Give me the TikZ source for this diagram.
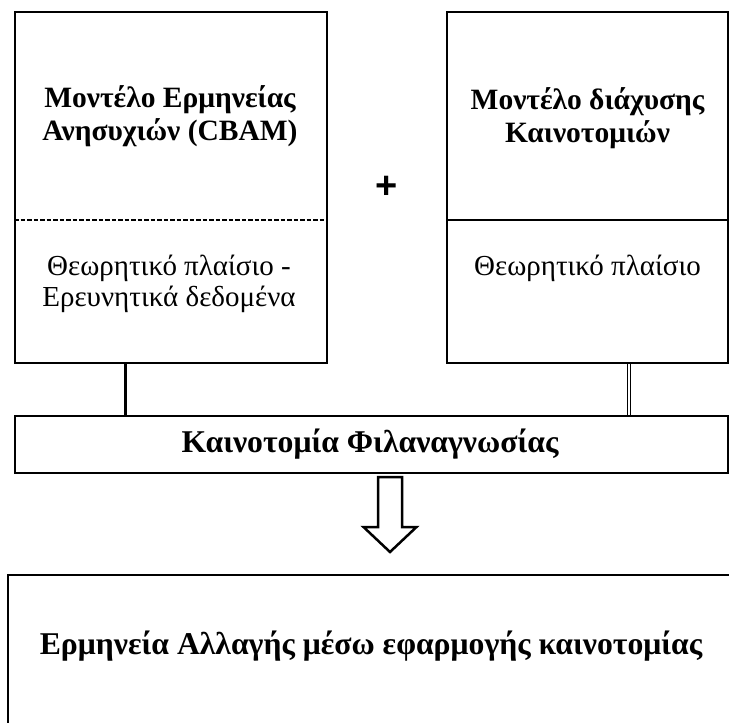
\documentclass[tikz,border=0pt]{standalone}
\usepackage{fontspec}
\setmainfont{Liberation Serif}
\newfontfamily\plusfont{Liberation Sans}
\begin{document}
\begin{tikzpicture}[x=1pt,y=-1pt,
  boxline/.style={draw=black,line width=2pt},
  frame/.style={boxline,rectangle,inner sep=0pt,fill=none},
  boldtxt/.style={align=center,font=\fontsize{29.5}{32.5}\selectfont\bfseries,inner sep=0pt},
  bigtxt/.style={align=center,font=\fontsize{31.7}{34}\selectfont\bfseries,inner sep=0pt},
  regtxt/.style={align=center,font=\fontsize{29}{31}\selectfont,inner sep=0pt},
  link/.style={line width=3pt},
  dlink/.style={double=white,double distance=2pt,line width=1pt}]
\useasboundingbox (0,0) rectangle (729,723);
\fill[white] (0,0) rectangle (729,723);
% top boxes
\node[frame,minimum width=312pt,minimum height=351pt] (cbam) at (171,187.5) {};
\node[frame,minimum width=281pt,minimum height=351pt] (diff) at (587.5,187.5) {};
\coordinate (div) at (0,220);
\draw[line width=1.3pt,dash pattern=on 4.5pt off 2pt] (cbam.west |- div) -- (cbam.east |- div);
\draw[line width=2pt] (diff.west |- div) -- (diff.east |- div);
\node[boldtxt] (t1) at (170,116) {Μοντέλο Ερμηνείας\\Ανησυχιών (CBAM)};
\node[regtxt] (s1) at (169,284) {Θεωρητικό πλαίσιο -\\Ερευνητικά δεδομένα};
\node[boldtxt] (t2) at (587.5,118) {Μοντέλο διάχυσης\\Καινοτομιών};
\node[regtxt] (s2) at (587.5,268) {Θεωρητικό πλαίσιο};
\node[inner sep=0pt,font=\plusfont\bfseries\fontsize{38}{38}\selectfont] (plus) at (387,187) {+};
% middle box
\node[frame,minimum width=713pt,minimum height=57pt] (mid) at (371.5,444.5) {};
\node[bigtxt] (mt) at (370,444) {Καινοτομία Φιλαναγνωσίας};
\coordinate (lc) at (125,0);
\coordinate (rc) at (629,0);
\draw[link] (cbam.south -| lc) -- (mid.north -| lc);
\draw[dlink] (diff.south -| rc) -- (mid.north -| rc);
% bottom box (cut by the page edge)
\coordinate (bb) at (8,575);
\begin{scope}
\clip (0,0) rectangle (729,723);
\draw[boxline] (740,575) -- (bb) -- (8,740);
\end{scope}
\node[bigtxt] (bt) at (371,646) {Ερμηνεία Αλλαγής μέσω εφαρμογής καινοτομίας};
% block arrow
\draw[line width=2.5pt,line join=miter,fill=white]
  (378,477) -- (402,477) -- (402,527) -- (416.5,527) -- (390,552) -- (363.5,527) -- (378,527) -- cycle;
\end{tikzpicture}
\end{document}
